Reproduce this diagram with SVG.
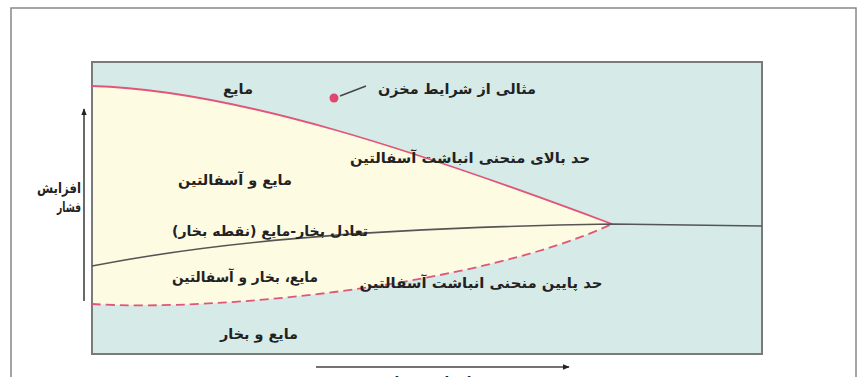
<svg xmlns="http://www.w3.org/2000/svg" width="861" height="377" viewBox="0 0 861 377">
<defs>
<style>
.lbl{font-family:"DejaVu Sans",sans-serif;font-weight:bold;font-size:14px;fill:#222;text-anchor:middle}
.red{fill:none;stroke:#e0557a;stroke-width:1.8}
.blk{fill:none;stroke:#555;stroke-width:1.6}
.ax{fill:none;stroke:#444;stroke-width:1.6}
</style>
<marker id="ah" viewBox="0 0 10 10" refX="9" refY="5" markerWidth="7" markerHeight="7" orient="auto" markerUnits="userSpaceOnUse">
<path d="M0,1 L10,5 L0,9 Z" fill="#222"/>
</marker>
</defs>
<rect width="861" height="377" fill="#fff"/>
<path d="M11,377 V8 H856 V377" fill="none" stroke="#888" stroke-width="1.5"/>
<g id="plot">
<rect x="92" y="62" width="670" height="292" fill="#d6ebe8"/>
<path d="M92,86 C235,90 420,152 612,224 C480,285 220,312 92,304 Z" fill="#fefbe3"/>
<rect x="92" y="62" width="670" height="292" fill="none" stroke="#7a7a7a" stroke-width="2"/>
</g>
<g id="connectors">
<path class="red" d="M92,86 C235,90 420,152 612,224"/>
<path class="red" d="M92,304 C220,312 480,285 612,224" stroke-dasharray="9,5"/>
<path class="blk" d="M92,266 C200,245 350,228 612,224 L762,226"/>
<line class="ax" x1="84" y1="301" x2="84" y2="109" marker-end="url(#ah)"/>
<line class="ax" x1="316" y1="367" x2="569" y2="367" marker-end="url(#ah)"/>
<line x1="340" y1="96" x2="366" y2="86" stroke="#444" stroke-width="1.4"/>
</g>
<g id="reservoir">
<circle cx="334" cy="98" r="4.5" fill="#e0466e"/>
<text class="lbl" x="457" y="94" textLength="158" lengthAdjust="spacingAndGlyphs">مثالی از شرایط مخزن</text>
</g>
<g id="liquid"><text class="lbl" x="238" y="94" textLength="30" lengthAdjust="spacingAndGlyphs">مایع</text></g>
<g id="upper-label"><text class="lbl" x="470" y="163" textLength="240" lengthAdjust="spacingAndGlyphs">حد بالای منحنی انباشت آسفالتین</text></g>
<g id="liquid-asph"><text class="lbl" x="235" y="185" textLength="114" lengthAdjust="spacingAndGlyphs">مایع و آسفالتین</text></g>
<g id="y-axis-label">
<text class="lbl" x="59" y="193" textLength="44" lengthAdjust="spacingAndGlyphs">افزایش</text>
<text class="lbl" x="69" y="212" textLength="24" lengthAdjust="spacingAndGlyphs">فشار</text>
</g>
<g id="bubble"><text class="lbl" x="270" y="236" textLength="196" lengthAdjust="spacingAndGlyphs">تعادل بخار-مایع (نقطه بخار)</text></g>
<g id="lva"><text class="lbl" x="245" y="282" textLength="146" lengthAdjust="spacingAndGlyphs">مایع، بخار و آسفالتین</text></g>
<g id="lower-label"><text class="lbl" x="481" y="288" textLength="243" lengthAdjust="spacingAndGlyphs">حد پایین منحنی انباشت آسفالتین</text></g>
<g id="lv"><text class="lbl" x="259" y="339" textLength="78" lengthAdjust="spacingAndGlyphs">مایع و بخار</text></g>
<g id="x-axis-label"><text class="lbl" x="433" y="387" textLength="77" lengthAdjust="spacingAndGlyphs">افزایش دما</text></g>
</svg>
